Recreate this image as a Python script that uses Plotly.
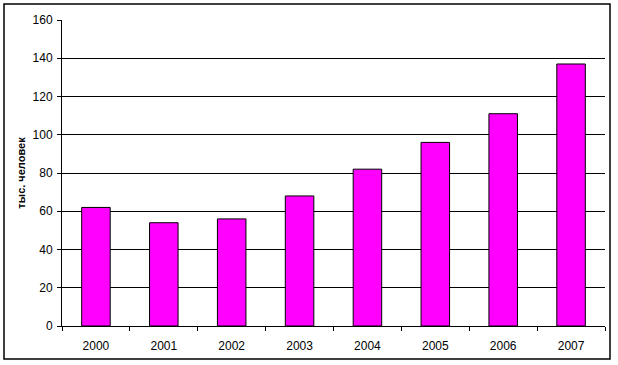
import plotly.graph_objects as go

years = ["2000", "2001", "2002", "2003", "2004", "2005", "2006", "2007"]
values = [62, 54, 56, 68, 82, 96, 111, 137]
y_ticks = [0, 20, 40, 60, 80, 100, 120, 140, 160]
y_title = "тыс. человек"

W, H = 618, 365
L, R, T, B = 62, 13, 20, 39
pw, ph = W - L - R, H - T - B

def px_x(x):
    return (x - L) / pw

def px_y(y):
    return (H - B - y) / ph

fig = go.Figure()
fig.add_trace(go.Bar(
    x=years, y=values,
    marker=dict(color="#FF00FF", line=dict(color="black", width=1)),
    width=0.42,
))

fig.update_layout(
    width=W, height=H,
    margin=dict(l=L, r=R, t=T, b=B),
    paper_bgcolor="white", plot_bgcolor="white",
    font=dict(family="Liberation Sans, Arial, sans-serif", size=12, color="black"),
    showlegend=False,
    xaxis=dict(
        type="category", showgrid=False, showline=True, linecolor="black", linewidth=1,
        ticks="outside", tickson="boundaries", ticklen=4, tickcolor="black",
        tickfont=dict(size=12), range=[-0.5, 7.5], ticklabelstandoff=9,
    ),
    yaxis=dict(
        range=[0, 160], tickvals=y_ticks, showgrid=True, gridcolor="black", gridwidth=1,
        showline=True, linecolor="black", linewidth=1, ticks="outside", ticklen=4,
        tickcolor="black", zeroline=False, tickfont=dict(size=12), ticklabelstandoff=2,
        title=dict(text="<b>" + y_title + "</b>", font=dict(size=11), standoff=4),
    ),
    shapes=[dict(
        type="rect", xref="paper", yref="paper",
        x0=px_x(4), x1=px_x(610), y0=px_y(4), y1=px_y(359),
        line=dict(color="black", width=1.5), fillcolor="rgba(0,0,0,0)", layer="below",
    )],
)

fig.write_html("out.html")
